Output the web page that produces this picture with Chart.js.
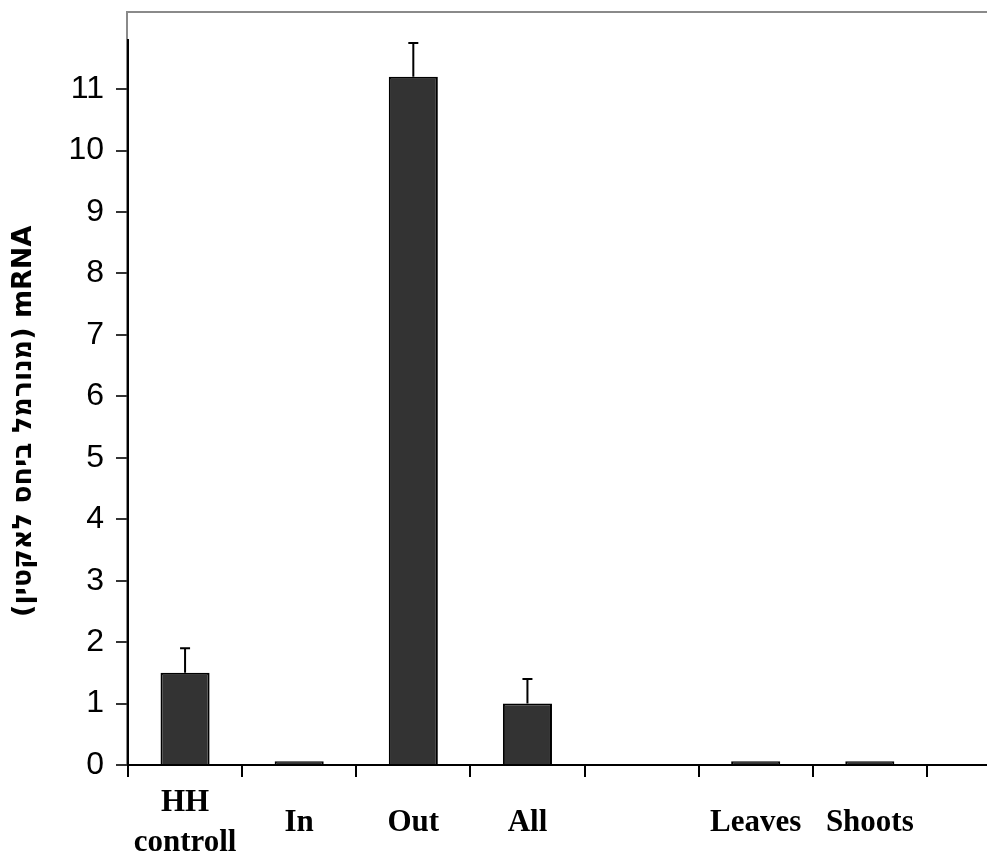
<!DOCTYPE html>
<html>
<head>
<meta charset="utf-8">
<script src="https://cdn.jsdelivr.net/npm/chart.js@4.4.1/dist/chart.umd.min.js"></script>
<style>
    html, body { margin: 0; padding: 0; background: #fff; overflow: hidden; }
    #wrap { width: 1050px; height: 860px; position: relative; }
</style>
</head>
<body>
<div id="wrap"><canvas id="mrnaChart"></canvas></div>
<script>
// categories (last slot left empty so the axis runs on past Shoots)
const categories = [['HH', 'controll'], 'In', 'Out', 'All', '', 'Leaves', 'Shoots', ''];
// mean expression per sample
const means = [1.5, 0.06, 11.2, 1.0, null, 0.06, 0.06, null];
// upper error (SE) per sample
const errors = [0.4, 0, 0.55, 0.4, 0, 0, 0, 0];
// y axis range
const yMin = 0;
const yMax = 11.8;

// gray frame round the plot area
const plotFrame = {
    id: 'plotFrame',
    beforeDraw(chart) {
        const { ctx, chartArea } = chart;
        ctx.save();
        ctx.strokeStyle = '#8a8a8a';
        ctx.lineWidth = 2;
        ctx.strokeRect(chartArea.left - 1, 12, chartArea.right - chartArea.left + 20, chartArea.bottom - 12);
        ctx.restore();
    }
};

// simple upper error bars on top of each bar
const errorBars = {
    id: 'errorBars',
    afterDatasetsDraw(chart) {
        const { ctx } = chart;
        const meta = chart.getDatasetMeta(0);
        const yScale = chart.scales.y;
        ctx.save();
        ctx.strokeStyle = '#000';
        ctx.lineWidth = 2;
        meta.data.forEach((bar, i) => {
            if (means[i] == null || !errors[i]) return;
            const top = yScale.getPixelForValue(means[i] + errors[i]);
            ctx.beginPath();
            ctx.moveTo(bar.x, bar.y);
            ctx.lineTo(bar.x, top);
            ctx.moveTo(bar.x - 5, top);
            ctx.lineTo(bar.x + 5, top);
            ctx.stroke();
        });
        ctx.restore();
    }
};

const ctx = document.getElementById('mrnaChart').getContext('2d');
new Chart(ctx, {
    type: 'bar',
    data: {
        labels: categories,
        datasets: [{
            data: means,
            backgroundColor: '#333333',
            borderColor: '#000000',
            borderWidth: 2,
            barPercentage: 0.43,
            categoryPercentage: 1
        }]
    },
    options: {
        responsive: true,
        maintainAspectRatio: false,
        animation: false,
        layout: { padding: { top: 40, right: 9, bottom: 0, left: 0 } },
        plugins: {
            legend: { display: false },
            tooltip: { enabled: false }
        },
        scales: {
            x: {
                grid: {
                    offset: true,
                    drawOnChartArea: false,
                    color: '#000',
                    tickLength: 12,
                    lineWidth: 2
                },
                border: { color: '#000', width: 2 },
                ticks: {
                    color: '#000',
                    maxRotation: 0,
                    autoSkip: false,
                    crossAlign: 'center',
                    padding: 26,
                    font: { family: 'Liberation Serif', weight: 'bold', size: 31, lineHeight: 1.28 }
                },
                afterFit(scale) { scale.height = 95; }
            },
            y: {
                min: yMin,
                max: yMax,
                grid: {
                    drawOnChartArea: false,
                    color: '#333',
                    tickLength: 12,
                    lineWidth: 2
                },
                border: { color: '#000', width: 2 },
                ticks: {
                    stepSize: 1,
                    color: '#000',
                    padding: 12,
                    font: { family: 'Liberation Sans', size: 32 }
                },
                afterBuildTicks(scale) {
                    scale.ticks = scale.ticks.filter(t => Number.isInteger(t.value));
                },
                title: {
                    display: true,
                    text: '(מנורמל ביחס לאקטין) mRNA    ',
                    color: '#000',
                    padding: { top: 8, bottom: 0 },
                    font: { family: 'DejaVu Sans', weight: 'bold', size: 27 }
                },
                afterFit(scale) { scale.width = 128; }
            }
        }
    },
    plugins: [plotFrame, errorBars]
});
</script>
</body>
</html>
